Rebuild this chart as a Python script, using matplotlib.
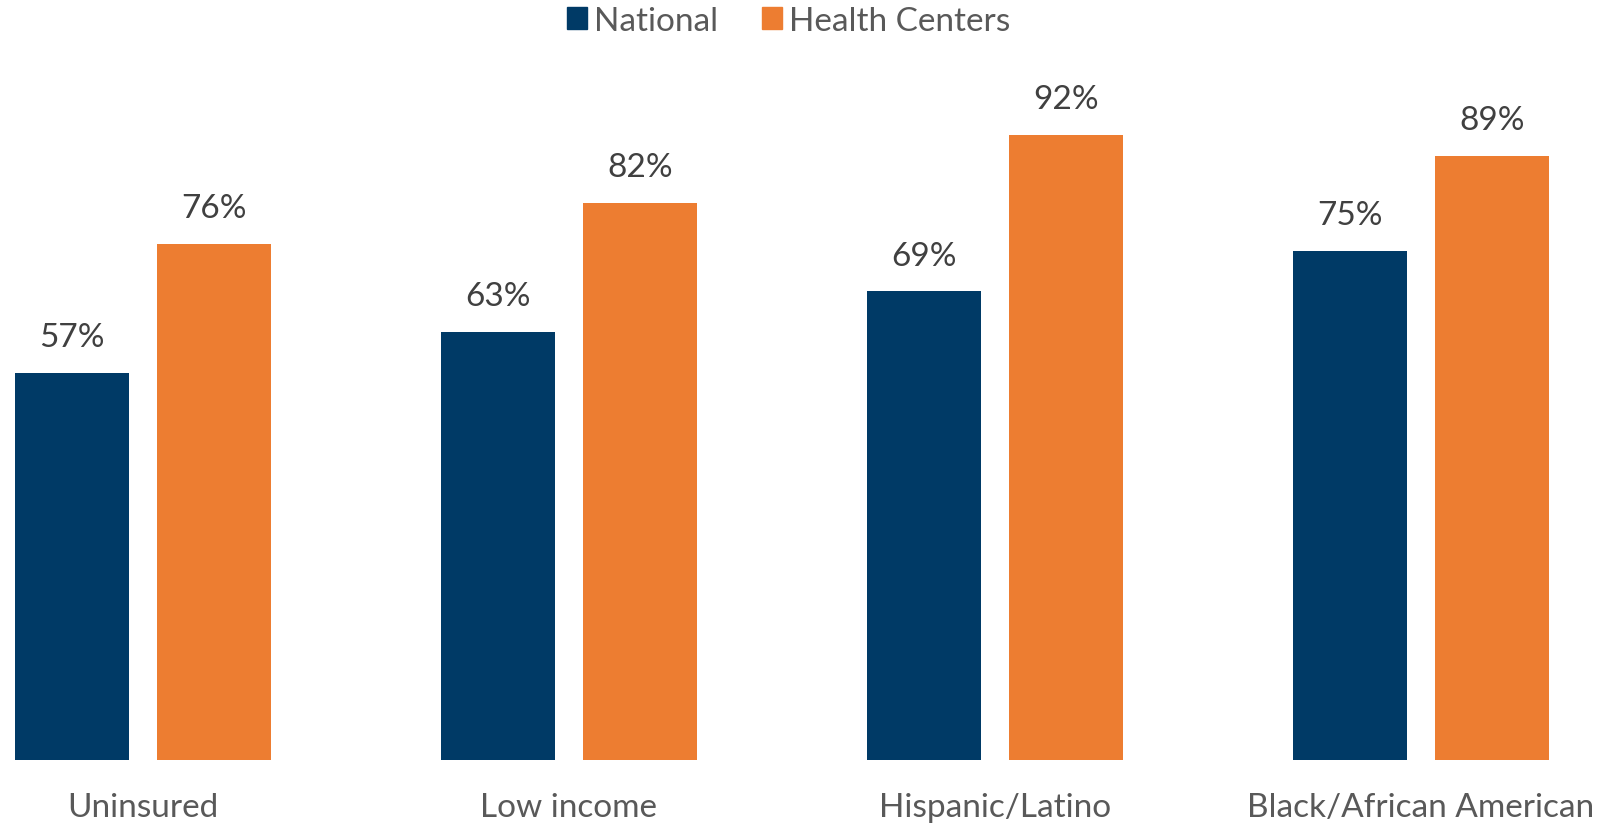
import numpy as np
import matplotlib.pyplot as plt
from matplotlib.patches import Patch

categories = ['Uninsured', 'Low income', 'Hispanic/Latino', 'Black/African American']
national = [57, 63, 69, 75]
health_centers = [76, 82, 92, 89]
series_names = ['National', 'Health Centers']

navy = '#003A66'
orange = '#ED7D31'
label_gray = '#595959'
value_gray = '#404040'

plt.rcParams['font.family'] = ['Lato', 'DejaVu Sans']

fig = plt.figure(figsize=(16.03, 8.28), dpi=100)
# axes placed so the 0% line sits at y=761px and 100% at y=82px
ax = fig.add_axes([0, 67 / 828, 1, 679 / 828])

x = np.arange(len(categories))
w = 0.2665
off = 0.167
b1 = ax.bar(x - off, national, w, color=navy)
b2 = ax.bar(x + off, health_centers, w, color=orange)

for bars in (b1, b2):
    ax.bar_label(bars, labels=[f'{v}%' for v in bars.datavalues],
                 padding=15, fontsize=24, color=value_gray)

ax.set_xlim(-143 / 426, (1603 - 143) / 426)
ax.set_ylim(0, 100)
ax.set_xticks(x, categories, fontsize=24, color=label_gray)
ax.tick_params(axis='x', length=0, pad=23)
ax.set_yticks([])
for s in ax.spines.values():
    s.set_visible(False)

handles = [Patch(color=navy), Patch(color=orange)]
fig.legend(handles, series_names, loc='upper center', bbox_to_anchor=(0.492, 1.028),
           ncol=2, frameon=False, fontsize=24, handlelength=0.6, handleheight=0.6,
           handletextpad=0.22, columnspacing=1.3, labelcolor=label_gray)

fig.savefig('out.png', dpi=100)
